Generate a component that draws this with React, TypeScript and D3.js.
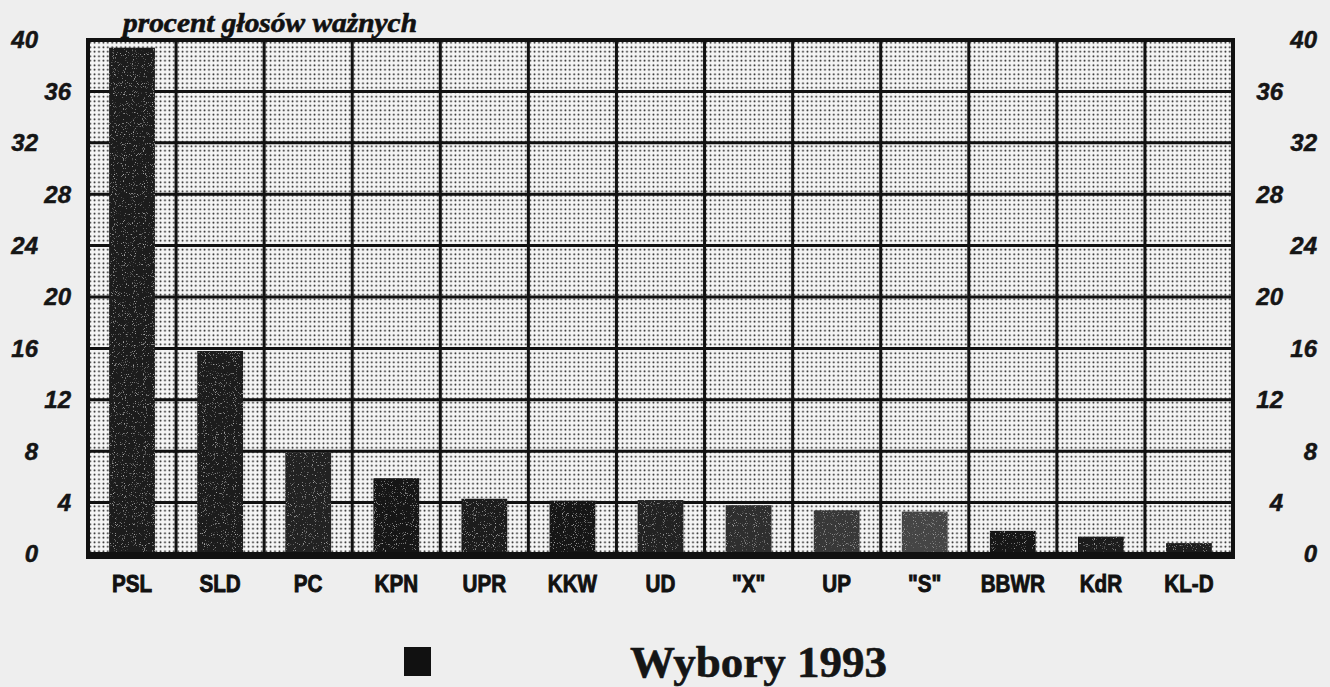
import React from 'react';
import * as d3 from 'd3';

const parties = ['PSL', 'SLD', 'PC', 'KPN', 'UPR', 'KKW', 'UD', '"X"', 'UP', '"S"', 'BBWR', 'KdR', 'KL-D'];
const percent = [39.4, 15.8, 7.9, 5.9, 4.3, 4.15, 4.2, 3.8, 3.4, 3.3, 1.8, 1.35, 0.85];
const barShade = ['#1b1b1b', '#1e1e1e', '#202020', '#171717', '#1a1a1a', '#161616', '#222', '#2e2e2e', '#383838', '#444', '#181818', '#1a1a1a', '#1c1c1c'];
const yTicks = [0, 4, 8, 12, 16, 20, 24, 28, 32, 36, 40];
const yTitle = 'procent głosów ważnych';
const chartTitle = 'Wybory 1993';

const W = 1330, H = 687;
const left = 88, right = 1233, top = 40, base = 554;

export default function App() {
  const x = d3.scaleBand().domain(parties).range([left, right]).padding(0);
  const y = d3.scaleLinear().domain([0, 40]).range([base, top]);
  const bw = x.bandwidth() * 0.52;
  const sans = '"Liberation Sans", Arial, sans-serif';
  const serif = '"Liberation Serif", "Times New Roman", serif';

  return (
    <svg width={W} height={H} style={{ position: 'absolute', left: 0, top: 0 }}>
      <defs>
        <pattern id="dots" width={4.4} height={4.5} patternUnits="userSpaceOnUse">
          <rect width={4.4} height={4.5} fill="#f5f5f5" />
          <circle cx={2.2} cy={2.25} r={0.95} fill="#111" />
        </pattern>
        <filter id="grain">
          <feTurbulence type="fractalNoise" baseFrequency="1.1" numOctaves="1" seed="3" result="n" />
          <feColorMatrix in="n" type="matrix" values="0 0 0 0 0.45  0 0 0 0 0.45  0 0 0 0 0.45  5 0 0 0 -3.1" result="g" />
          <feComposite in="g" in2="SourceGraphic" operator="in" result="gg" />
          <feMerge><feMergeNode in="SourceGraphic" /><feMergeNode in="gg" /></feMerge>
        </filter>
      </defs>
      <rect width={W} height={H} fill="#eeeeee" />

      {/* plot background */}
      <rect x={left} y={top} width={right - left} height={base - top} fill="url(#dots)" />

      {/* horizontal grid */}
      {yTicks.filter((t) => t > 0 && t < 40).map((t) => (
        <line key={`h${t}`} x1={left} x2={right} y1={y(t)} y2={y(t)} stroke="#111" strokeWidth={3} />
      ))}
      {/* vertical grid */}
      {parties.slice(1).map((p) => (
        <line key={`v${p}`} x1={x(p)} x2={x(p)} y1={top} y2={base} stroke="#111" strokeWidth={3} />
      ))}

      {/* bars */}
      <g filter="url(#grain)">
        {parties.map((p, i) => (
          <rect key={p} x={(x(p) as number) + x.bandwidth() / 2 - bw / 2} y={y(percent[i])}
            width={bw} height={y(0) - y(percent[i])} fill={barShade[i]} />
        ))}
      </g>

      {/* frame */}
      <rect x={left} y={top} width={right - left} height={base - top} fill="none" stroke="#111" strokeWidth={4} />
      <line x1={left - 2} x2={right + 2} y1={base + 1.5} y2={base + 1.5} stroke="#111" strokeWidth={7} />

      {/* y labels, staggered on both sides */}
      {yTicks.map((t) => {
        const outer = t % 8 === 0;
        return (
          <g key={`yl${t}`} fontFamily={sans} fontWeight="bold" fontStyle="italic" fontSize={24}
            fill="#151515" stroke="#151515" strokeWidth={0.5}>
            <text x={outer ? 38 : 71} y={y(t) + 2} textAnchor="end" dominantBaseline="middle">{t}</text>
            <text x={outer ? 1317 : 1283} y={y(t) + 2} textAnchor="end" dominantBaseline="middle">{t}</text>
          </g>
        );
      })}

      {/* x labels */}
      {parties.map((p) => (
        <text key={`xl${p}`} transform={`translate(${(x(p) as number) + x.bandwidth() / 2},592) scale(0.86,1)`}
          textAnchor="middle" fontFamily={sans} fontWeight="bold" fontSize={24} fill="#111"
          stroke="#111" strokeWidth={0.9}>{p}</text>
      ))}

      {/* axis title */}
      <text x={123} y={32} fontFamily={serif} fontWeight="bold" fontStyle="italic" fontSize={27}
        textLength={294} lengthAdjust="spacingAndGlyphs" fill="#111" stroke="#111" strokeWidth={0.6}>{yTitle}</text>

      {/* legend and chart title */}
      <rect x={404} y={647} width={27} height={29} fill="#111" />
      <text x={630} y={677} fontFamily={serif} fontWeight="bold" fontSize={45} fill="#151515"
        stroke="#151515" strokeWidth={0.6}>{chartTitle}</text>
    </svg>
  );
}
